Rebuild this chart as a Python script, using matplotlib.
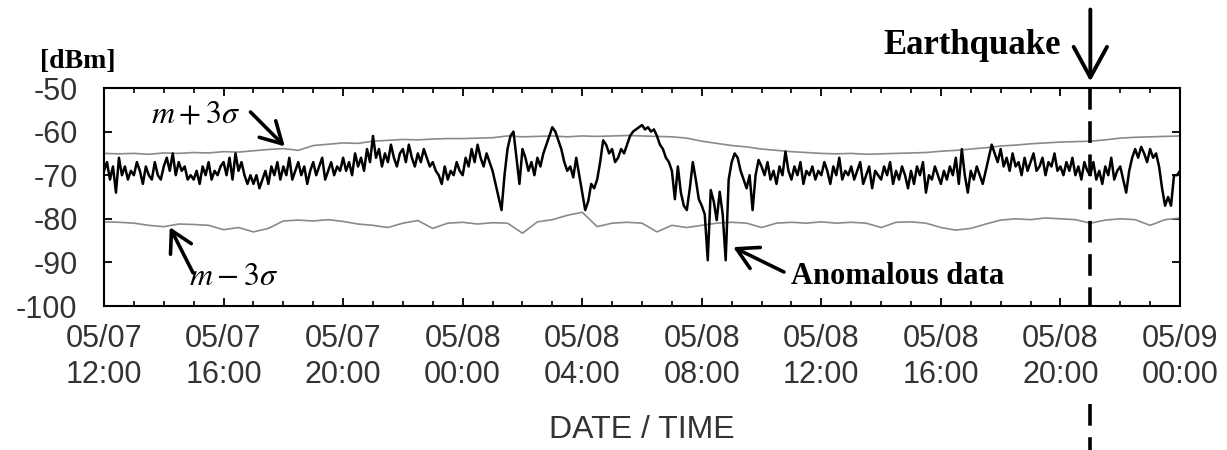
import matplotlib
matplotlib.use("Agg")
import matplotlib.pyplot as plt
import numpy as np
from matplotlib.ticker import MultipleLocator

# ---------------- data ----------------
# received signal level [dBm], one value every 6 minutes from 05/07 12:00
signal = [
    -69, -67, -71, -68, -74, -66, -70, -68, -71, -69,
    -70, -67, -69, -72, -68, -70, -71, -67, -70, -71,
    -68, -66, -69, -65, -70, -67, -69, -68, -71, -70,
    -71, -69, -72, -68, -70, -67, -71, -69, -70, -68,
    -67, -70, -66, -71, -65, -69, -67, -70, -72, -70,
    -72, -70, -73, -71, -69, -72, -68, -70, -67, -71,
    -68, -70, -66, -71, -69, -67, -70, -68, -72, -69,
    -67, -70, -68, -66, -71, -69, -67, -70, -68, -69,
    -66, -69, -67, -70, -65, -68, -66, -69, -64, -67,
    -61, -66, -64, -68, -65, -67, -63, -66, -68, -65,
    -64, -67, -63, -66, -68, -65, -67, -64, -66, -68,
    -67, -69, -70, -72, -68, -71, -69, -70, -67, -69,
    -70, -66, -68, -64, -67, -63, -66, -68, -65, -67,
    -69, -72, -75, -78, -70, -64, -61, -60, -66, -72,
    -64, -66, -69, -67, -70, -66, -68, -65, -63, -61,
    -59, -60, -62, -64, -67, -69, -68, -70.5, -66, -70,
    -74, -78, -76, -72, -73, -71, -67, -62, -63, -65,
    -64, -67, -66, -64, -65, -63, -61, -60, -59.5, -59,
    -58.5, -59.5, -59, -60, -59.5, -61, -63, -64, -66, -67,
    -69, -75.5, -68, -74, -77, -78, -73, -67, -71, -75.5,
    -77, -79, -89.5, -73.4, -76, -80.3, -73.8, -79, -89.5, -71,
    -67, -65, -66, -69, -71, -73, -70, -78, -70, -66.5,
    -68, -70, -67, -71, -69, -72, -68, -70, -64.6, -69,
    -71, -68, -70, -67, -72, -69, -70, -68, -71, -69,
    -70, -67, -69, -72, -68, -70, -66, -71, -69, -70,
    -68, -71, -69, -67, -72, -70, -68, -73, -69, -70,
    -71, -68, -70, -67, -72, -69, -71, -68, -70, -73,
    -69, -72, -68, -70, -67, -74, -70, -71, -68, -70,
    -72, -69, -71, -68, -70, -66, -72, -64, -70, -74,
    -69, -71, -68, -70, -72, -69, -66, -63, -65, -67,
    -64, -68, -66, -69, -65, -68, -67, -70, -66, -69,
    -67, -65, -69, -68, -66, -70, -67, -68, -65, -69,
    -68, -70, -67, -69, -66, -70, -68, -71, -67, -69,
    -70, -67, -71, -69, -72, -68, -70, -66, -71, -69,
    -68, -71, -74, -69, -66, -64, -66, -63.5, -65, -67,
    -64, -66, -65, -68, -73, -77, -75, -77, -70, -70,
    -69,
]
SIGNAL_STEP_H = 0.1

# m + 3 sigma and m - 3 sigma thresholds, one value every 30 minutes
upper = [
    -65.0, -65.1, -65.0, -65.2, -64.9, -65.0, -64.8, -64.9, -64.6, -64.7,
    -64.4, -64.1, -63.9, -64.3, -63.2, -62.9, -62.6, -62.7, -62.2, -62.0,
    -61.8, -61.9, -61.7, -61.6, -61.6, -61.5, -61.4, -61.0, -61.2, -61.1,
    -61.0, -61.2, -61.0, -61.1, -61.0, -60.9, -61.0, -61.1, -61.2, -61.5,
    -62.2, -62.7, -63.2, -63.5, -64.0, -64.3, -64.6, -64.8, -65.0, -65.1,
    -65.0, -65.2, -65.1, -65.0, -64.9, -64.8, -64.5, -64.3, -64.0, -63.7,
    -63.3, -63.1, -62.8, -62.6, -62.4, -62.3, -62.2, -61.9, -61.5, -61.3,
    -61.2, -61.1, -61.0,
]
lower = [
    -80.7, -80.8, -81.0, -81.5, -81.8, -81.2, -81.3, -81.5, -82.5, -82.0,
    -83.0, -82.2, -80.5, -80.3, -80.5, -80.2, -80.6, -81.2, -81.5, -82.0,
    -81.0, -80.4, -82.2, -81.0, -80.8, -81.2, -80.9, -81.0, -83.3, -80.7,
    -80.2, -79.2, -78.5, -81.8, -81.0, -80.8, -81.0, -83.0, -81.5, -82.0,
    -81.5, -81.0, -80.8, -81.0, -82.0, -81.0, -80.8, -81.0, -80.7, -81.0,
    -80.8, -81.0, -82.0, -80.8, -80.7, -81.0, -82.0, -82.6, -82.2, -81.2,
    -80.3, -80.0, -80.2, -79.8, -80.0, -80.2, -81.0, -80.3, -80.0, -80.2,
    -81.5, -80.2, -79.8,
]
ENV_STEP_H = 0.5

tick_hours = [0, 4, 8, 12, 16, 20, 24, 28, 32, 36]
tick_labels = ["05/07\n12:00", "05/07\n16:00", "05/07\n20:00", "05/08\n00:00",
               "05/08\n04:00", "05/08\n08:00", "05/08\n12:00", "05/08\n16:00",
               "05/08\n20:00", "05/09\n00:00"]
y_ticks = [-100, -90, -80, -70, -60, -50]
EQ_HOUR = 33  # 05/08 21:00

# ---------------- figure ----------------
W, H = 1227, 450
plt.rcParams["mathtext.fontset"] = "stix"
fig = plt.figure(figsize=(W / 100, H / 100), dpi=100)
fig.patch.set_facecolor("white")
ax = fig.add_axes([104 / W, 1 - 306 / H, (1180 - 104) / W, (306 - 88) / H])

t_sig = np.arange(len(signal)) * SIGNAL_STEP_H
t_env = np.arange(len(upper)) * ENV_STEP_H

ax.plot(t_env, upper, color="#8a8a8a", lw=1.2, zorder=2)
ax.plot(t_env, lower, color="#8a8a8a", lw=1.2, zorder=2)
ax.plot(t_sig, signal, color="black", lw=1.8, zorder=3)

sans = ["Liberation Sans", "DejaVu Sans"]
ax.set_xlim(0, 36)
ax.set_ylim(-100, -50)
ax.set_xticks(tick_hours)
ax.set_xticklabels(tick_labels, fontfamily=sans, fontsize=22,
                   color="#333333", linespacing=1.25)
ax.xaxis.set_minor_locator(MultipleLocator(1))
ax.set_yticks(y_ticks)
ax.set_yticklabels([str(v) for v in y_ticks], fontfamily=sans,
                   fontsize=22, color="#333333")
ax.tick_params(axis="both", which="major", direction="in", top=True, right=True,
               length=6, width=1.3)
ax.tick_params(axis="x", which="major", pad=13)
ax.tick_params(axis="y", which="major", pad=19)
ax.tick_params(axis="x", which="minor", direction="in", top=True, length=3.5,
               width=1.2)
for s in ax.spines.values():
    s.set_linewidth(1.5)

ax.set_xlabel("DATE / TIME", fontfamily=sans, fontsize=23,
              color="#333333", labelpad=18)

serif = ["Liberation Serif", "DejaVu Serif"]
# unit label
fig.text(40 / W, 1 - 61 / H, "[dBm]", fontfamily=serif, fontweight="bold",
         fontsize=20, ha="left", va="center", color="black")

# threshold annotations
arrow_kw = dict(arrowstyle="->,head_length=0.75,head_width=0.42", lw=2.6,
                color="black", mutation_scale=20, shrinkA=0, shrinkB=0)
ax.text(3.05, -56.0, r"$m+3\sigma$", fontsize=23, ha="center", va="center")
ax.annotate("", xy=(6.05, -63.4), xytext=(4.9, -55.5), arrowprops=arrow_kw)
ax.text(4.35, -93.3, r"$m-3\sigma$", fontsize=23, ha="center", va="center")
ax.annotate("", xy=(2.2, -81.9), xytext=(2.98, -92.4), arrowprops=arrow_kw)
ax.text(23.0, -93.2, "Anomalous data", fontfamily=serif, fontweight="bold",
        fontsize=22, ha="left", va="center")
ax.annotate("", xy=(21.05, -86.5), xytext=(22.75, -92.2), arrowprops=arrow_kw)

# earthquake marker: dashed line inside the axes and again below the labels
trans = ax.get_xaxis_transform()
dash = dict(transform=trans, color="black", lw=2.6,
            linestyle=(0, (6.0, 3.2)), clip_on=False, zorder=4)
ax.plot([EQ_HOUR, EQ_HOUR], [1.0, 0.0], **dash)
ax.plot([EQ_HOUR, EQ_HOUR], [(306 - 404) / 218, (306 - 452) / 218], **dash)
ax.annotate("", xy=(EQ_HOUR, 1.03), xycoords=trans,
            xytext=(EQ_HOUR, 1.36), textcoords=trans,
            arrowprops=dict(arrowstyle="->,head_length=1.1,head_width=0.6",
                            lw=2.8, color="black", mutation_scale=20,
                            shrinkA=0, shrinkB=0),
            annotation_clip=False)
fig.text(1061 / W, 1 - 46 / H, "Earthquake", fontfamily=serif,
         fontweight="bold", fontsize=25, ha="right", va="center",
         color="black")

fig.savefig("out.png", dpi=100, facecolor="white")
